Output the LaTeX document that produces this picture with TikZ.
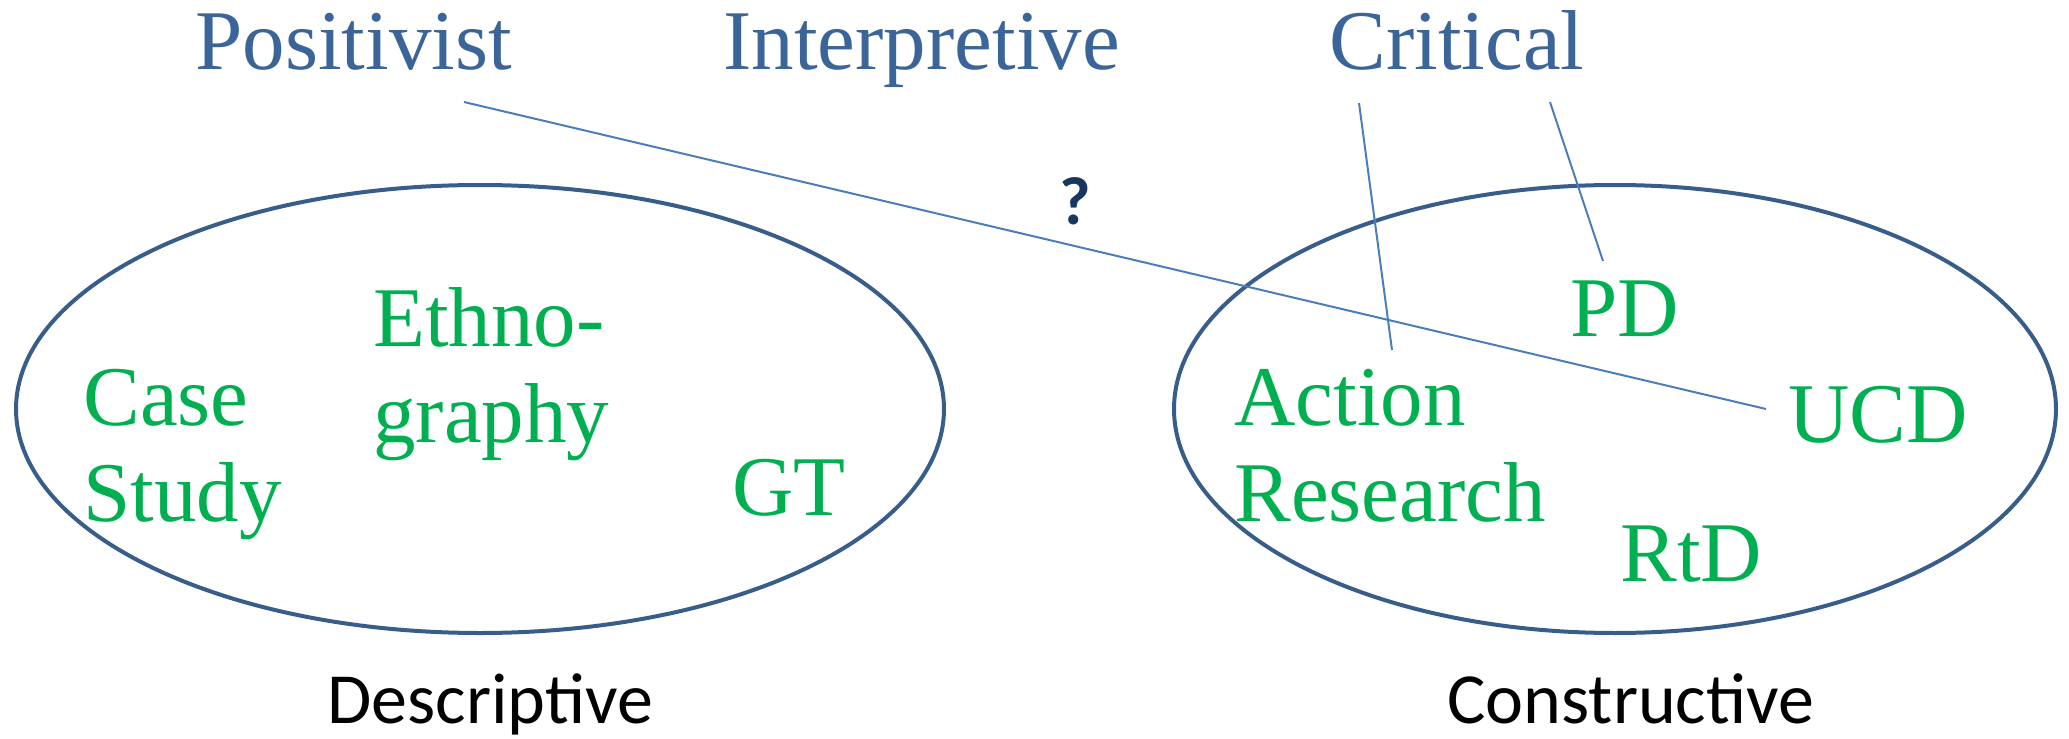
\documentclass[tikz,border=0pt]{standalone}
\usepackage{fontspec}
\setmainfont{Liberation Serif}
\newfontfamily\calibri{Carlito}
\definecolor{paradigmblue}{RGB}{59,100,152}
\definecolor{methodgreen}{RGB}{0,176,80}
\definecolor{rimblue}{RGB}{56,93,138}
\definecolor{linkblue}{RGB}{74,126,187}
\definecolor{querynavy}{RGB}{23,55,94}

\begin{document}
\begin{tikzpicture}[x=0.5pt,y=-0.5pt,
  paradigm/.style={anchor=base west,inner sep=0,text=paradigmblue,font=\fontsize{42.5}{48}\selectfont},
  method/.style={anchor=base west,inner sep=0,text=methodgreen,align=left,font=\fontsize{42.5}{48}\selectfont},
  kind/.style={anchor=base west,inner sep=0,font=\calibri\fontsize{36}{40}\selectfont},
  rim/.style={draw=rimblue,line width=2pt},
  link/.style={draw=linkblue,line width=1pt}]
\useasboundingbox (0,0) rectangle (2069,739);
% paradigms
\node[paradigm] (pos) at (195,69) {Positivist};
\node[paradigm] (int) at (723,69) {Interpretive};
\node[paradigm] (crit) at (1329,69) {Critical};
% the two families
\draw[rim] (480,409) ellipse (464 and 224);
\draw[rim] (1615,409) ellipse (441 and 224);
\node[kind] (desc) at (327,723) {Descriptive};
\node[kind] (cons) at (1447,723) {Constructive};
% methods (base = last line)
\node[method] (cs) at (83,521) {Case\\Study};
\node[method] (eth) at (373,442) {Ethno-\\graphy};
\node[method] (ar) at (1234,521) {Action\\Research};
\foreach \n/\t/\x/\y in {gt/GT/732/515,pd/PD/1570/336,ucd/UCD/1788/442,rtd/RtD/1620/581}{\node[method] (\n) at (\x,\y) {\t};}
% links
\coordinate (posA) at (464,102); \coordinate (ucdA) at (1766,409);
\coordinate (critA) at (1359,103); \coordinate (arA) at (1392,350);
\coordinate (critB) at (1550,102); \coordinate (pdA) at (1603,261);
\draw[link] (posA)--(ucdA); \draw[link] (critA)--(arA); \draw[link] (critB)--(pdA);
\node[text=querynavy,font=\calibri\bfseries\fontsize{34}{36}\selectfont] (q) at (1075,201) {?};
\end{tikzpicture}
\end{document}
